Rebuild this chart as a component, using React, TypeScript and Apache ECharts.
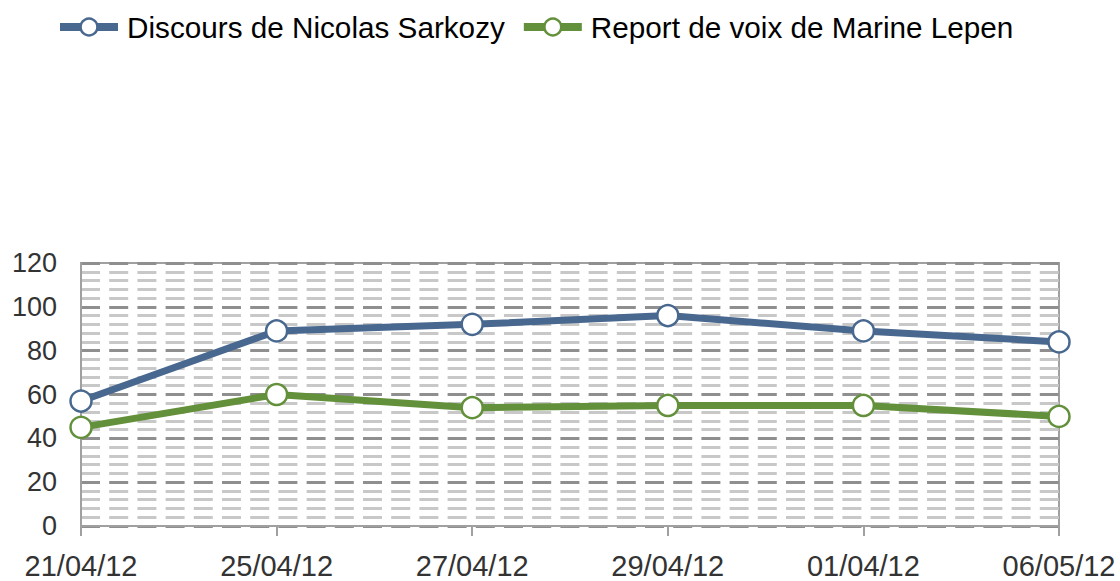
import React, { useEffect, useRef } from "react";
import * as echarts from "echarts";

const categories = ["21/04/12", "25/04/12", "27/04/12", "29/04/12", "01/04/12", "06/05/12"];
const sarkozy = [57, 89, 92, 96, 89, 84];
const lepen = [45, 60, 54, 55, 55, 50];
const seriesNames = ["Discours de Nicolas Sarkozy", "Report de voix de Marine Lepen"];

const BLUE = "#48688F";
const GREEN = "#63903A";
const FONT = "Liberation Sans, Arial, sans-serif";

export default function App() {
  const ref = useRef<HTMLDivElement>(null);
  useEffect(() => {
    if (!ref.current) return;
    const chart = echarts.init(ref.current, undefined, { renderer: "svg" });
    const mkSeries = (name: string, data: number[], color: string) => ({
      name,
      type: "line",
      data,
      symbol: "circle",
      symbolSize: 21,
      showSymbol: true,
      lineStyle: { color, width: 7 },
      itemStyle: { color: "#ffffff", borderColor: color, borderWidth: 2.5 },
      emphasis: { disabled: true },
      z: 3,
    });
    chart.setOption({
      animation: false,
      textStyle: { fontFamily: FONT },
      legend: {
        left: 56,
        top: 12,
        padding: 0,
        itemWidth: 58,
        itemHeight: 21,
        itemGap: 15,
        textStyle: { fontSize: 29.7, color: "#000", fontFamily: FONT, padding: [0, 0, 0, 4] },
        lineStyle: { width: 8 },
        itemStyle: { borderWidth: 2.5 },
        data: seriesNames,
      },
      grid: {
        left: 81,
        right: 61,
        top: 263,
        bottom: 55,
        show: true,
        borderColor: "#a0a0a0",
        borderWidth: 2,
        backgroundColor: "transparent",
      },
      xAxis: {
        type: "category",
        data: categories,
        boundaryGap: false,
        axisLine: { show: true, lineStyle: { color: "#a0a0a0", width: 2 } },
        axisTick: { show: true, length: 10, lineStyle: { color: "#a0a0a0", width: 2 } },
        axisLabel: { fontSize: 29, color: "#333", margin: 25, fontFamily: FONT },
        splitLine: { show: false },
      },
      yAxis: {
        type: "value",
        min: 0,
        max: 120,
        interval: 20,
        axisLine: { show: true, lineStyle: { color: "#a0a0a0", width: 2 } },
        axisTick: { show: false },
        axisLabel: { fontSize: 27, color: "#333", margin: 24, fontFamily: FONT },
        splitLine: {
          show: true,
          lineStyle: { color: "#8f8f8f", width: 3, type: [19, 9.2] },
        },
        minorTick: { show: false, splitNumber: 5 },
        minorSplitLine: {
          show: true,
          lineStyle: { color: "#c8c8c8", width: 3, type: [19, 9.2] },
        },
      },
      series: [mkSeries(seriesNames[0], sarkozy, BLUE), mkSeries(seriesNames[1], lepen, GREEN)],
    });
    return () => chart.dispose();
  }, []);
  return (
    <div
      ref={ref}
      style={{ position: "absolute", left: 0, top: 0, width: 1120, height: 581 }}
    />
  );
}
